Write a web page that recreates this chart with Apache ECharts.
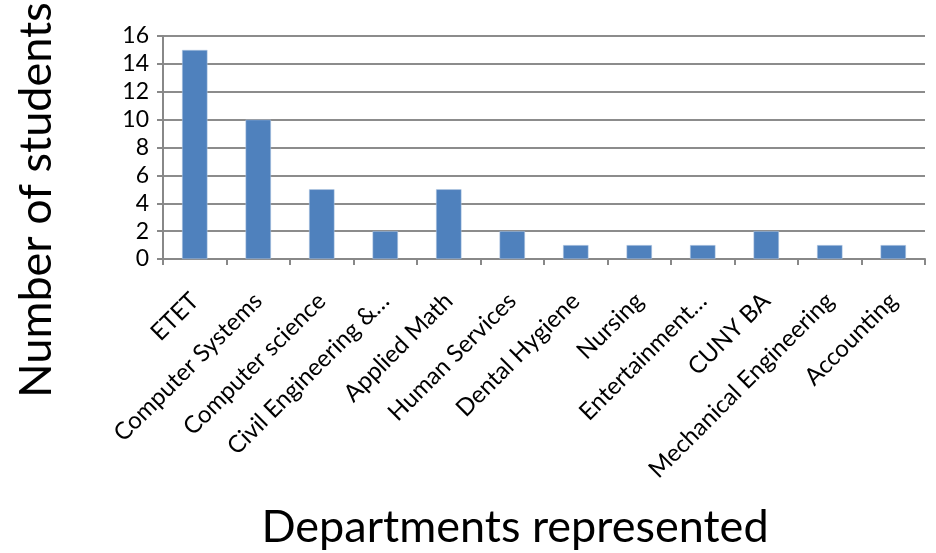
<!DOCTYPE html>
<html><head><meta charset="utf-8">
<script src="https://cdn.jsdelivr.net/npm/echarts@6/dist/echarts.min.js"></script>
<style>html,body{margin:0;padding:0;background:#fff}#c{width:936px;height:553px}</style>
</head><body><div id="c"></div>
<script>
const categories = ["ETET","Computer Systems","Computer science","Civil Engineering &…","Applied Math","Human Services","Dental Hygiene","Nursing","Entertainment…","CUNY BA","Mechanical Engineering","Accounting"];
const students = [15,10,5,2,5,2,1,1,1,2,1,1];
const yTicks = {min:0,max:16,interval:2};
const FONT = "Lato, 'Open Sans', sans-serif";
const chart = echarts.init(document.getElementById('c'));
chart.setOption({
  animation:false,
  grid:{left:163,right:11,top:36,bottom:294,containLabel:false,outerBoundsMode:'none'},
  xAxis:{type:'category',data:categories,
    axisLine:{lineStyle:{color:'#888',width:2}},
    axisTick:{show:true,alignWithLabel:false,length:6,lineStyle:{color:'#888',width:2}},
    axisLabel:{rotate:45,interval:0,fontFamily:FONT,fontSize:24,color:'#000',margin:38}},
  yAxis:{type:'value',min:yTicks.min,max:yTicks.max,interval:yTicks.interval,
    axisLine:{show:true,lineStyle:{color:'#888',width:2}},
    axisTick:{show:true,length:6,lineStyle:{color:'#888',width:2}},
    axisLabel:{fontFamily:FONT,fontSize:23,color:'#000',margin:14},
    splitLine:{lineStyle:{color:'#8c8c8c',width:2}}},
  graphic:[
    {type:'text',x:36,y:200,rotation:Math.PI/2,
      style:{text:'Number of students',fontFamily:FONT,fontSize:45,fill:'#000',align:'center',verticalAlign:'middle'}},
    {type:'text',x:515,y:527,
      style:{text:'Departments represented',fontFamily:FONT,fontSize:45,fill:'#000',align:'center',verticalAlign:'middle'}}
  ],
  series:[{type:'bar',data:students,barWidth:'40%',itemStyle:{color:'#4F81BD',borderColor:'#B9CDE5',borderWidth:0.5}}]
});
</script></body></html>
